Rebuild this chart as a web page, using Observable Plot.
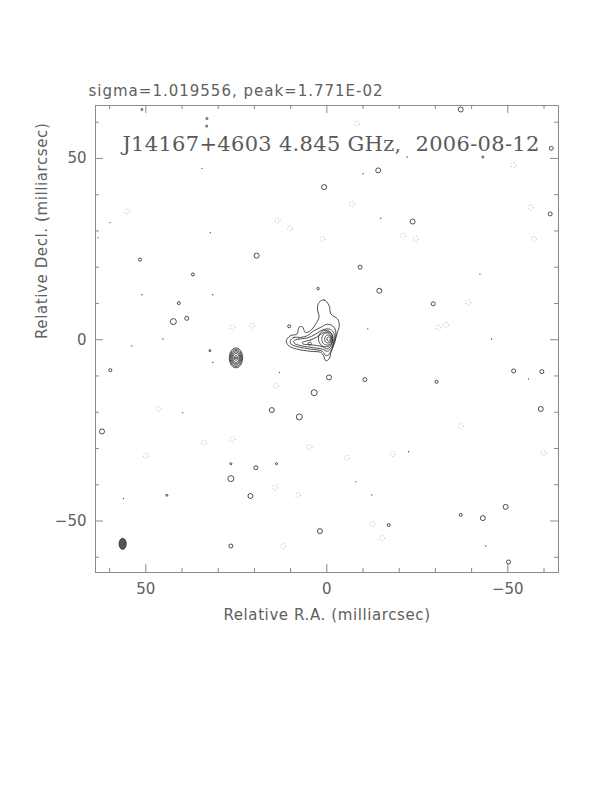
<!DOCTYPE html>
<html><head><meta charset="utf-8">
<script src="https://cdn.jsdelivr.net/npm/d3@7"></script>
<script src="https://cdn.jsdelivr.net/npm/@observablehq/plot@0.6"></script>
<style>body{margin:0;background:#fff} svg text{white-space:pre}</style>
</head><body><div id="chart"></div>
<script>
// ---- texts ----
const headerText = "sigma=1.019556, peak=1.771E-02";
const titleText = "J14167+4603 4.845 GHz,  2006-08-12";
const xLabel = "Relative R.A. (milliarcsec)";
const yLabel = "Relative Decl. (milliarcsec)";
const xTickLabels = [50, 0, -50];
const yTickLabels = [50, 0, -50];
const minorTicks = [-60, -40, -30, -20, -10, 10, 20, 30, 40, 60];
const majorTicks = [-50, 0, 50];

// ---- main source contours (RA, Dec in mas) ----
const contourA = [[2.15,10.3],[0.75,11.0],[-0.64,9.4],[-1.12,7.1],[-2.99,5.7],[-3.44,3.9],[-2.79,1.6],[-2.04,-1.2],[-1.12,-3.5],[-0.64,-5.3],[0.28,-5.8],[0.92,-4.4],[1.68,-3.5],[4.47,-3.2],[8.18,-2.6],[10.5,-1.7],[11.2,-0.3],[10.1,1.1],[8.2,1.6],[7.7,3.4],[6.8,3.6],[5.9,2.0],[4.5,2.5],[3.1,4.3],[2.15,6.2],[2.6,8.5]];
const contourB = [[10.06,-0.28],[9.13,0.64],[7.26,0.64],[5.39,1.1],[3.55,2.5],[1.68,3.4],[-0.2,4.3],[-2.04,3.4],[-2.51,1.6],[-1.87,-1.2],[-0.64,-4.0],[0.28,-4.4],[1.2,-3.2],[4.47,-2.6],[8.18,-1.9],[9.86,-1.2]];
const contourC = [[9.13,-0.28],[7.74,0.19],[5.39,0.47],[3.07,1.57],[1.2,2.7],[-0.64,2.96],[-1.87,2.0],[-2.04,0.19],[-1.31,-2.1],[-0.2,-3.2],[1.2,-2.6],[4.47,-2.1],[7.74,-1.5],[8.94,-1.0]];
const contourD = [[6.79,-0.75],[4.47,-0.08],[2.6,0.83],[0.75,2.0],[-0.92,2.0],[-1.59,0.64],[-1.12,-1.66],[0,-2.57],[1.2,-1.93],[4.47,-1.38],[6.5,-1.19]];
// inner rings of the core and knot: [ra, dec, halfWidth, halfHeight]
const coreRings = [[0.3,0.3,2.0,2.3],[0.0,0.2,1.4,1.7],[-0.3,0.2,0.9,1.1],[-0.5,0.2,0.45,0.6],[4.7,-1.1,0.45,0.45]];
// secondary component rings
const compRings = [[25.1,-5.0,1.85,2.75],[25.1,-5.0,1.6,2.4],[25.1,-5.0,1.35,2.0],[25.1,-5.0,1.1,1.65],[25.1,-5.0,0.85,1.25],[25.1,-5.0,0.45,0.7],[25.1,-5.0,0.2,0.3]];
// restoring beam
const beam = [[56.4,-56.3,0.98,1.52]];

// ---- noise contours ----
const posRA  = [0.74,19.4,51.6,37.0,2.4,40.9,42.4,38.7,10.4,-37.0,-62.0,-43.1,-14.2,-61.7,-23.7,-9.2,-14.5,-29.4,32.3,59.8,3.5,15.2,7.6,62.1,26.5,19.6,13.9,26.5,44.2,21.1,1.9,26.5,-0.6,-10.5,-30.3,-51.6,-59.4,-59.1,-17.1,-37.0,-43.1,-49.4,-50.2,33.1,33.2,51.1];
const posDec = [42.1,23.2,22.1,18.0,14.1,10.1,5.0,5.9,3.7,63.5,52.8,50.4,46.7,34.7,32.6,20.0,13.5,9.9,-3.0,-8.4,-14.6,-19.4,-21.3,-25.3,-34.2,-35.3,-34.2,-38.3,-42.9,-43.1,-52.8,-56.9,-10.4,-11.0,-11.6,-8.6,-8.8,-19.1,-51.1,-48.3,-49.2,-46.1,-61.3,61.0,58.9,63.5];
const posSize= [2.5,2.5,1.5,1.5,1.2,1.5,3,2,1.5,2.5,2,1,2.5,2,2.5,2,2.5,2,1,1.5,3,2.5,3,2.5,1,2,1,3,1,2.5,2.5,2,2.5,2,1.5,2,2,2.5,1.5,1.5,2.5,2.5,2,1,1,1];
const negRA  = [55.2,13.6,10.2,1.2,26.0,20.6,-8.3,-51.6,-6.9,-56.3,-21.1,-24.6,-57.2,-39.1,-30.8,-32.9,14.0,46.4,26.0,4.8,50.0,14.2,7.9,12.0,-5.5,-18.2,-12.6,-15.2,-59.9,-37.0,33.9];
const negDec = [35.4,32.9,30.7,27.8,3.4,3.9,59.6,48.1,37.5,36.5,28.7,27.8,27.8,10.3,3.4,4.1,-12.7,-19.1,-27.4,-29.6,-32.0,-40.8,-42.9,-56.9,-32.6,-31.5,-50.8,-54.7,-31.2,-23.8,-28.4];
const speckRA  = [34.5,59.9,63.2,32.2,51.1,31.5,45.3,-22.2,-10.0,-14.9,-42.3,-11.3,-45.5,53.9,31.5,13.1,39.8,56.2,-55.7,-22.6,-8.0,-12.4,-43.9];
const speckDec = [47.2,32.3,28.1,29.5,12.4,12.4,0.2,50.4,45.8,33.5,18.1,3.0,0.2,-1.7,-6.3,-9.0,-20.1,-43.8,-10.8,-30.9,-39.2,-42.8,-56.9];

// ---- build tables ----
const polyRows = [contourA, contourB, contourC, contourD].flatMap((c, i) => c.map(([x, y]) => ({x, y, id: i})));
function ringRows(list, tag) {
  return list.flatMap(([cx, cy, rx, ry], i) =>
    d3.range(24).map(k => ({x: cx + rx * Math.cos(k * Math.PI / 12), y: cy + ry * Math.sin(k * Math.PI / 12), id: tag + i})));
}
const ringData = ringRows(coreRings, "c").concat(ringRows(compRings, "s"));
const beamData = ringRows(beam, "b");
const pos = posRA.map((x, i) => ({x, y: posDec[i], r: posSize[i]}));
const neg = negRA.map((x, i) => ({x, y: negDec[i]}));
const specks = speckRA.map((x, i) => ({x, y: speckDec[i]}));

const xD = [63.9, -64.0], yD = [-64.2, 64.6];
const gray = "#8a8a8a", txt = "#606060";
const font = "DejaVu Sans";

const plot = Plot.plot({
  width: 612, height: 792,
  marginLeft: 95, marginRight: 54, marginTop: 105, marginBottom: 220,
  x: {domain: xD}, y: {domain: yD}, r: {type: "identity"},
  style: {background: "#fff"},
  marks: [
    Plot.frame({stroke: gray}),
    Plot.ruleX(minorTicks, {y1: yD[0], y2: yD[0] + 1.1, stroke: gray}),
    Plot.ruleX(majorTicks, {y1: yD[0], y2: yD[0] + 2.2, stroke: gray}),
    Plot.ruleX(minorTicks, {y1: yD[1], y2: yD[1] - 1.1, stroke: gray}),
    Plot.ruleX(majorTicks, {y1: yD[1], y2: yD[1] - 2.2, stroke: gray}),
    Plot.ruleY(minorTicks, {x1: xD[0], x2: xD[0] - 1.1, stroke: gray}),
    Plot.ruleY(majorTicks, {x1: xD[0], x2: xD[0] - 2.2, stroke: gray}),
    Plot.ruleY(minorTicks, {x1: xD[1], x2: xD[1] + 1.1, stroke: gray}),
    Plot.ruleY(majorTicks, {x1: xD[1], x2: xD[1] + 2.2, stroke: gray}),
    Plot.axisX(xTickLabels, {anchor: "bottom", tickSize: 0, tickPadding: 11, fontSize: 15, fontFamily: font, color: txt, label: null}),
    Plot.axisY(yTickLabels, {anchor: "left", tickSize: 0, tickPadding: 9, fontSize: 15, fontFamily: font, color: txt, label: null}),
    Plot.text([xLabel], {frameAnchor: "bottom", dy: 47, fontSize: 15, fontFamily: font, fill: txt}),
    Plot.text([yLabel], {frameAnchor: "left", dx: -53, rotate: -90, fontSize: 15, fontFamily: font, fill: txt}),
    Plot.text([headerText], {frameAnchor: "top-left", dx: -7, dy: -20, textAnchor: "start", fontSize: 15, fontFamily: font, fill: txt}),
    Plot.text([titleText], {frameAnchor: "top", dx: 4, dy: 31, fontSize: 21, fontFamily: "DejaVu Serif", fill: "#5a5a5a"}),
    Plot.line(polyRows, {x: "x", y: "y", z: "id", curve: "catmull-rom-closed", stroke: "#222", strokeWidth: 0.8}),
    Plot.line(ringData, {x: "x", y: "y", z: "id", curve: "linear-closed", stroke: "#222", strokeWidth: 0.8}),
    Plot.line(beamData, {x: "x", y: "y", z: "id", curve: "linear-closed", stroke: "#222", fill: "#555", strokeWidth: 0.8}),
    Plot.dot(pos, {x: "x", y: "y", r: "r", stroke: "#222", strokeWidth: 0.8, fill: "none"}),
    Plot.dot(neg, {x: "x", y: "y", r: 2.5, stroke: "#999", strokeWidth: 0.8, strokeDasharray: "1,2", fill: "none"}),
    Plot.dot(specks, {x: "x", y: "y", r: 0.7, fill: "#444", stroke: "none"})
  ]
});
document.getElementById("chart").appendChild(plot);
const sel = d3.select(plot).selectAll("text");
sel.filter(function () { return this.textContent === headerText; }).attr("letter-spacing", "1.0");
sel.filter(function () { return this.textContent === xLabel || this.textContent === yLabel; }).attr("letter-spacing", "0.6");
sel.filter(function () { return this.textContent === titleText; }).attr("letter-spacing", "0.3").attr("font-weight", "300");
</script>
</body></html>
